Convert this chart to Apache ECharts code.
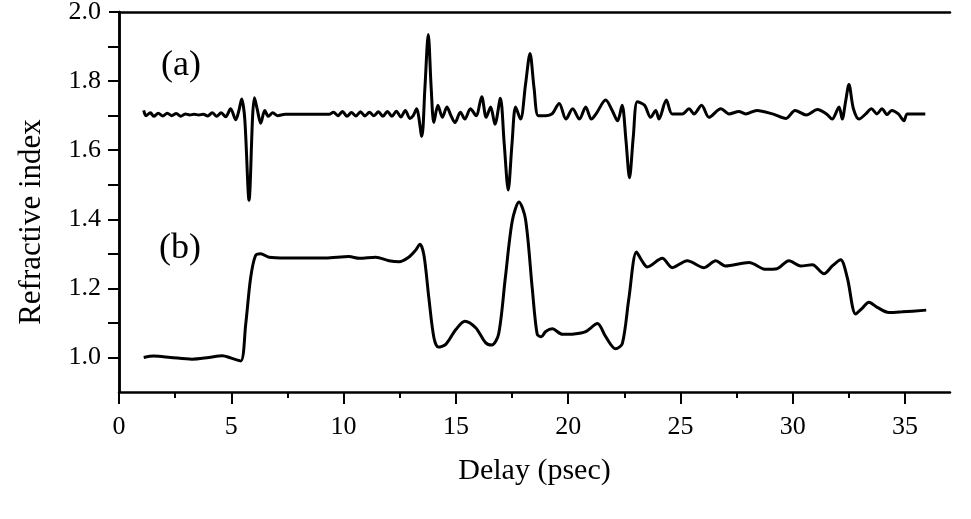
<!DOCTYPE html>
<html>
<head>
<meta charset="utf-8">
<title>Refractive index vs delay</title>
<script src="https://cdn.jsdelivr.net/npm/echarts@6/dist/echarts.min.js"></script>
<style>
    html, body { margin: 0; padding: 0; background: #fff; }
    #chart { width: 971px; height: 519px; }
</style>
</head>
<body>
<div id="chart"></div>
<script>
// curve (a): delay (psec) and refractive index
var delayA = [1.1, 1.2, 1.4, 1.55, 1.75, 1.95, 2.15, 2.35, 2.55, 2.75, 2.95, 3.15, 3.35, 3.55, 3.75, 3.95,
    4.15, 4.35, 4.55, 4.75, 4.97, 5.2, 5.34, 5.46, 5.6, 5.79, 5.95, 6.03, 6.15, 6.31, 6.49, 6.65, 6.85, 7.05,
    7.4, 9.35, 9.55, 9.75, 9.95, 10.15, 10.35, 10.55, 10.75, 10.95, 11.15, 11.35, 11.55, 11.75, 11.95, 12.15,
    12.35, 12.55, 12.75, 12.95, 13.1, 13.25, 13.48, 13.62, 13.77, 13.9, 14.02, 14.2, 14.4, 14.6, 14.78, 14.96,
    15.2, 15.4, 15.65, 15.9, 16.15, 16.35, 16.55, 16.74, 16.98, 17.15, 17.33, 17.5, 17.66, 17.88, 18.1, 18.3,
    18.48, 18.67, 19.0, 19.28, 19.6, 19.9, 20.2, 20.5, 20.78, 21.03, 21.24, 21.67, 21.96, 22.2, 22.4, 22.57,
    22.73, 22.9, 23.08, 23.4, 23.67, 23.9, 24.04, 24.37, 24.63, 25.08, 25.38, 25.6, 25.94, 26.27, 26.8, 27.16,
    27.6, 27.9, 28.4, 29.1, 29.7, 30.1, 30.6, 31.1, 31.5, 31.75, 32.06, 32.2, 32.35, 32.5, 32.7, 32.95, 33.25,
    33.5, 33.75, 33.97, 34.2, 34.4, 34.7, 34.95, 35.1, 35.9];
var indexA = [1.715, 1.700, 1.708, 1.698, 1.707, 1.699, 1.707, 1.700, 1.706, 1.698, 1.705, 1.702, 1.704, 1.702, 1.704, 1.699,
    1.708, 1.698, 1.708, 1.697, 1.72, 1.688, 1.715, 1.748, 1.69, 1.455, 1.70, 1.752, 1.72, 1.678, 1.715, 1.698, 1.708, 1.700,
    1.704, 1.704, 1.710, 1.700, 1.712, 1.698, 1.709, 1.699, 1.711, 1.699, 1.710, 1.700, 1.711, 1.698, 1.712, 1.698,
    1.713, 1.696, 1.715, 1.692, 1.70, 1.72, 1.64, 1.78, 1.935, 1.78, 1.68, 1.73, 1.695, 1.725, 1.70, 1.68,
    1.71, 1.69, 1.72, 1.70, 1.755, 1.695, 1.725, 1.675, 1.75, 1.62, 1.485, 1.62, 1.725, 1.69, 1.79, 1.88,
    1.78, 1.70, 1.70, 1.705, 1.735, 1.69, 1.72, 1.69, 1.725, 1.69, 1.705, 1.745, 1.715, 1.685, 1.73, 1.63,
    1.52, 1.64, 1.74, 1.73, 1.695, 1.715, 1.69, 1.745, 1.705, 1.705, 1.72, 1.705, 1.73, 1.695, 1.72, 1.705,
    1.712, 1.705, 1.715, 1.705, 1.692, 1.715, 1.702, 1.718, 1.705, 1.69, 1.725, 1.69, 1.74, 1.79, 1.72, 1.69, 1.705,
    1.72, 1.705, 1.72, 1.703, 1.715, 1.705, 1.685, 1.705, 1.705];

// curve (b)
var delayB = [1.1, 1.55, 2.3, 3.25, 4.0, 4.6, 5.0, 5.42, 5.64, 5.86, 6.08, 6.31, 6.68, 7.42, 9.2, 10.24, 10.7,
    11.43, 12.02, 12.47, 12.9, 13.2, 13.4, 13.58, 13.8, 14.02, 14.22, 14.55, 14.99, 15.4, 15.88, 16.32, 16.6,
    16.9, 17.2, 17.51, 17.81, 18.1, 18.4, 18.62, 18.8, 19.0, 19.29, 19.74, 20.26, 20.78, 21.3, 21.67, 22.11,
    22.41, 22.7, 23.04, 23.3, 23.52, 24.19, 24.63, 25.3, 26.05, 26.57, 27.0, 28.05, 28.8, 29.3, 29.83, 30.35,
    30.87, 31.39, 31.76, 32.13, 32.43, 32.8, 33.1, 33.39, 33.76, 34.28, 34.87, 35.94];
var indexB = [1.000, 1.004, 1.000, 0.995, 1.000, 1.005, 0.998, 0.99, 1.095, 1.23, 1.295, 1.30, 1.29, 1.288, 1.288, 1.292, 1.287,
    1.29, 1.28, 1.277, 1.29, 1.31, 1.328, 1.295, 1.17, 1.058, 1.03, 1.038, 1.08, 1.105, 1.086, 1.043, 1.036,
    1.067, 1.23, 1.395, 1.45, 1.40, 1.20, 1.067, 1.06, 1.075, 1.083, 1.067, 1.068, 1.075, 1.098, 1.06, 1.025,
    1.04, 1.17, 1.305, 1.278, 1.262, 1.287, 1.26, 1.28, 1.26, 1.28, 1.265, 1.275, 1.255, 1.257, 1.28, 1.265,
    1.268, 1.242, 1.265, 1.283, 1.23, 1.126, 1.143, 1.16, 1.145, 1.13, 1.132, 1.137];

// axis ticks
var xMajorTicks = [0, 5, 10, 15, 20, 25, 30, 35];
var xMinorTicks = [2.5, 7.5, 12.5, 17.5, 22.5, 27.5, 32.5];
var yMajorTicks = [1.0, 1.2, 1.4, 1.6, 1.8, 2.0];
var yMinorTicks = [1.1, 1.3, 1.5, 1.7, 1.9];
var yRightTicks = [1.0, 1.1, 1.2, 1.3, 1.4, 1.5, 1.6, 1.7, 1.8, 1.9];

var serif = "'Liberation Serif', 'DejaVu Serif', serif";

function pairs(xs, ys) {
    let out = [];
    for (let i = 0; i < xs.length; i++) {
        out.push([xs[i], ys[i]]);
    }
    return out;
}

var myChart = echarts.init(document.getElementById('chart'), null, {renderer: 'canvas'});

var option = {
    animation: false,
    backgroundColor: '#fff',
    grid: {
        left: 119,
        right: 21,
        top: 12,
        bottom: 127,
        outerBoundsMode: 'none',
        show: false
    },
    xAxis: [{
        type: 'value',
        min: 0,
        max: 37,
        position: 'bottom',
        axisLine: {show: true, lineStyle: {color: '#000', width: 2.5}},
        axisTick: {show: true, customValues: xMajorTicks, length: 12, lineStyle: {color: '#000', width: 2}},
        axisLabel: {
            customValues: xMajorTicks,
            margin: 22,
            color: '#000',
            fontFamily: serif,
            fontSize: 26
        },
        splitLine: {show: false},
        name: 'Delay (psec)',
        nameLocation: 'middle',
        nameGap: 64,
        nameTextStyle: {color: '#000', fontFamily: serif, fontSize: 30}
    }, {
        // minor ticks on the bottom axis
        type: 'value',
        min: 0,
        max: 37,
        position: 'bottom',
        axisLine: {show: false},
        axisTick: {show: true, customValues: xMinorTicks, length: 6, lineStyle: {color: '#000', width: 2}},
        axisLabel: {show: false},
        splitLine: {show: false}
    }, {
        // top frame line
        type: 'value',
        min: 0,
        max: 37,
        position: 'top',
        axisLine: {show: true, lineStyle: {color: '#000', width: 2.5}},
        axisTick: {show: false},
        axisLabel: {show: false},
        splitLine: {show: false}
    }],
    yAxis: [{
        type: 'value',
        min: 0.9,
        max: 2.0,
        position: 'left',
        axisLine: {show: true, lineStyle: {color: '#000', width: 2.5}},
        axisTick: {show: true, customValues: yMajorTicks, length: 10, lineStyle: {color: '#000', width: 2}},
        axisLabel: {
            customValues: yMajorTicks,
            margin: 18,
            color: '#000',
            fontFamily: serif,
            fontSize: 26,
            formatter: function (v) {
                return v.toFixed(1);
            }
        },
        splitLine: {show: false}
    }, {
        // minor ticks on the left axis
        type: 'value',
        min: 0.9,
        max: 2.0,
        position: 'left',
        axisLine: {show: false},
        axisTick: {show: true, customValues: yMinorTicks, length: 5, lineStyle: {color: '#000', width: 2}},
        axisLabel: {show: false},
        splitLine: {show: false}
    }, {
        // right frame with inward ticks
        type: 'value',
        min: 0.9,
        max: 2.0,
        position: 'right',
        axisLine: {show: true, lineStyle: {color: '#000', width: 2.5}},
        axisTick: {show: true, inside: true, customValues: yRightTicks, length: 11, lineStyle: {color: '#000', width: 2}},
        axisLabel: {show: false},
        splitLine: {show: false}
    }],
    graphic: [{
        type: 'text',
        x: 32,
        y: 222,
        rotation: Math.PI / 2,
        style: {
            text: 'Refractive index',
            font: '31px ' + serif,
            fill: '#000',
            align: 'center',
            verticalAlign: 'middle'
        }
    }, {
        type: 'text',
        x: 161,
        y: 48,
        style: {text: '(a)', font: '36px ' + serif, fill: '#000'}
    }, {
        type: 'text',
        x: 159,
        y: 231,
        style: {text: '(b)', font: '36px ' + serif, fill: '#000'}
    }],
    series: [{
        name: '(a)',
        type: 'line',
        xAxisIndex: 0,
        yAxisIndex: 0,
        data: pairs(delayA, indexA),
        showSymbol: false,
        smooth: 0.3,
        lineStyle: {color: '#000', width: 3}
    }, {
        name: '(b)',
        type: 'line',
        xAxisIndex: 0,
        yAxisIndex: 0,
        data: pairs(delayB, indexB),
        showSymbol: false,
        smooth: 0.3,
        lineStyle: {color: '#000', width: 3}
    }]
};

myChart.setOption(option);
</script>
</body>
</html>
